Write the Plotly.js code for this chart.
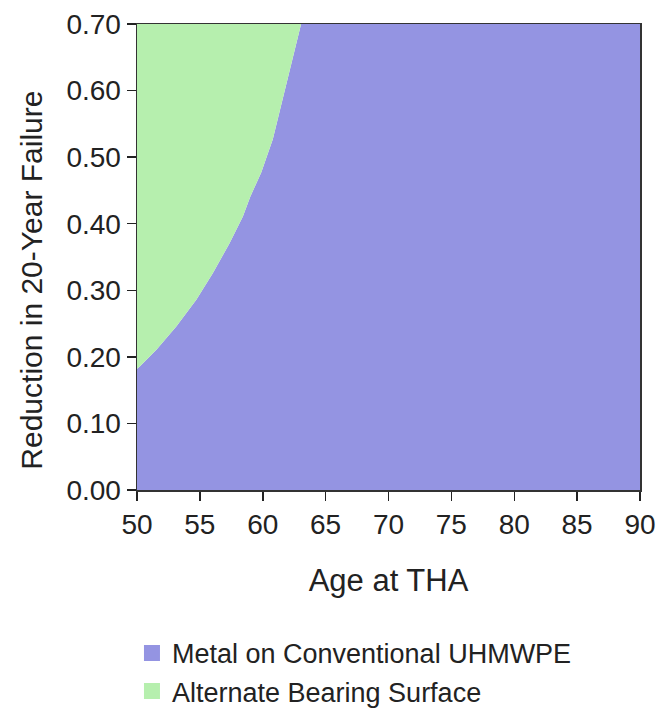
<!DOCTYPE html>
<html>
<head>
<meta charset="utf-8">
<script src="https://cdn.plot.ly/plotly-3.0.1.min.js"></script>
<style>html,body{margin:0;padding:0;background:#fff;}#chart{width:660px;height:708px;}</style>
</head>
<body>
<div id="chart"></div>
<script>
// Boundary between regions (age at THA vs reduction in 20-year failure)
var boundaryAge = [50, 50.24, 51.56, 53.14, 54.73, 56.04, 57.37, 58.42, 59.0, 59.88, 60.8, 61.59, 62.38, 63.05];
var boundaryReduction = [0.182, 0.186, 0.211, 0.246, 0.286, 0.326, 0.371, 0.411, 0.44, 0.477, 0.527, 0.587, 0.647, 0.70];
var ageMin = 50, ageMax = 90, redMax = 0.70;
var seriesNames = ['Metal on Conventional UHMWPE', 'Alternate Bearing Surface'];
var seriesColors = ['#9494e2', '#b6efae'];
var xTicks = [50, 55, 60, 65, 70, 75, 80, 85, 90];
var yTicks = [0, 0.1, 0.2, 0.3, 0.4, 0.5, 0.6, 0.7];

// Metal region: under the boundary, then full height to age 90
var metalX = boundaryAge.concat([ageMax]);
var metalY = boundaryReduction.concat([redMax]);
// Alternate region: between the boundary and the 0.70 ceiling
var altX = boundaryAge.slice();
var altY = boundaryAge.map(function(){ return redMax; });

var traces = [
  {x: metalX, y: metalY, type: 'scatter', mode: 'lines', fill: 'tozeroy',
   fillcolor: seriesColors[0], line: {width: 0, color: seriesColors[0]},
   name: seriesNames[0], showlegend: false, hoverinfo: 'skip'},
  {x: altX, y: altY, type: 'scatter', mode: 'lines', fill: 'tonexty',
   fillcolor: seriesColors[1], line: {width: 0, color: seriesColors[1]},
   name: seriesNames[1], showlegend: false, hoverinfo: 'skip'},
  {x: [null], y: [null], type: 'scatter', mode: 'markers', name: seriesNames[0],
   marker: {symbol: 'square', size: 22, color: seriesColors[0]}},
  {x: [null], y: [null], type: 'scatter', mode: 'markers', name: seriesNames[1],
   marker: {symbol: 'square', size: 22, color: seriesColors[1]}}
];

var layout = {
  width: 660, height: 708,
  margin: {l: 137, r: 20, t: 24, b: 218, autoexpand: false},
  paper_bgcolor: '#fff', plot_bgcolor: '#fff',
  font: {family: 'Liberation Sans, Arial, sans-serif', color: '#222'},
  xaxis: {
    range: [ageMin, ageMax], tickvals: xTicks, ticktext: xTicks.map(String),
    showgrid: false, zeroline: false, showline: true, linecolor: '#333', linewidth: 1.5, mirror: true,
    ticks: 'outside', ticklen: 9, tickwidth: 1.5, tickcolor: '#222',
    tickfont: {size: 28, color: '#222'}, automargin: false,
    title: {text: 'Age at THA', font: {size: 31, color: '#222'}, standoff: 30}
  },
  yaxis: {
    range: [0, redMax], tickvals: yTicks, ticktext: yTicks.map(function(v){return v.toFixed(2);}),
    showgrid: false, zeroline: false, showline: true, linecolor: '#333', linewidth: 1.5, mirror: true,
    ticks: 'outside', ticklen: 9, tickwidth: 1.5, tickcolor: '#222',
    tickfont: {size: 28, color: '#222'}, automargin: false
  },
  annotations: [{
    text: 'Reduction in 20-Year Failure', textangle: -90, showarrow: false,
    xref: 'paper', yref: 'paper', x: -0.21, y: 0.45, xanchor: 'center', yanchor: 'middle',
    font: {size: 30, color: '#222'}
  }],
  legend: {orientation: 'v', traceorder: 'normal', x: -0.01, xanchor: 'left', y: -0.298, yanchor: 'top',
    font: {size: 27, color: '#222'}, itemsizing: 'trace', tracegroupgap: 4},
  showlegend: true
};

Plotly.newPlot('chart', traces, layout, {displayModeBar: false, staticPlot: true});
</script>
</body>
</html>
